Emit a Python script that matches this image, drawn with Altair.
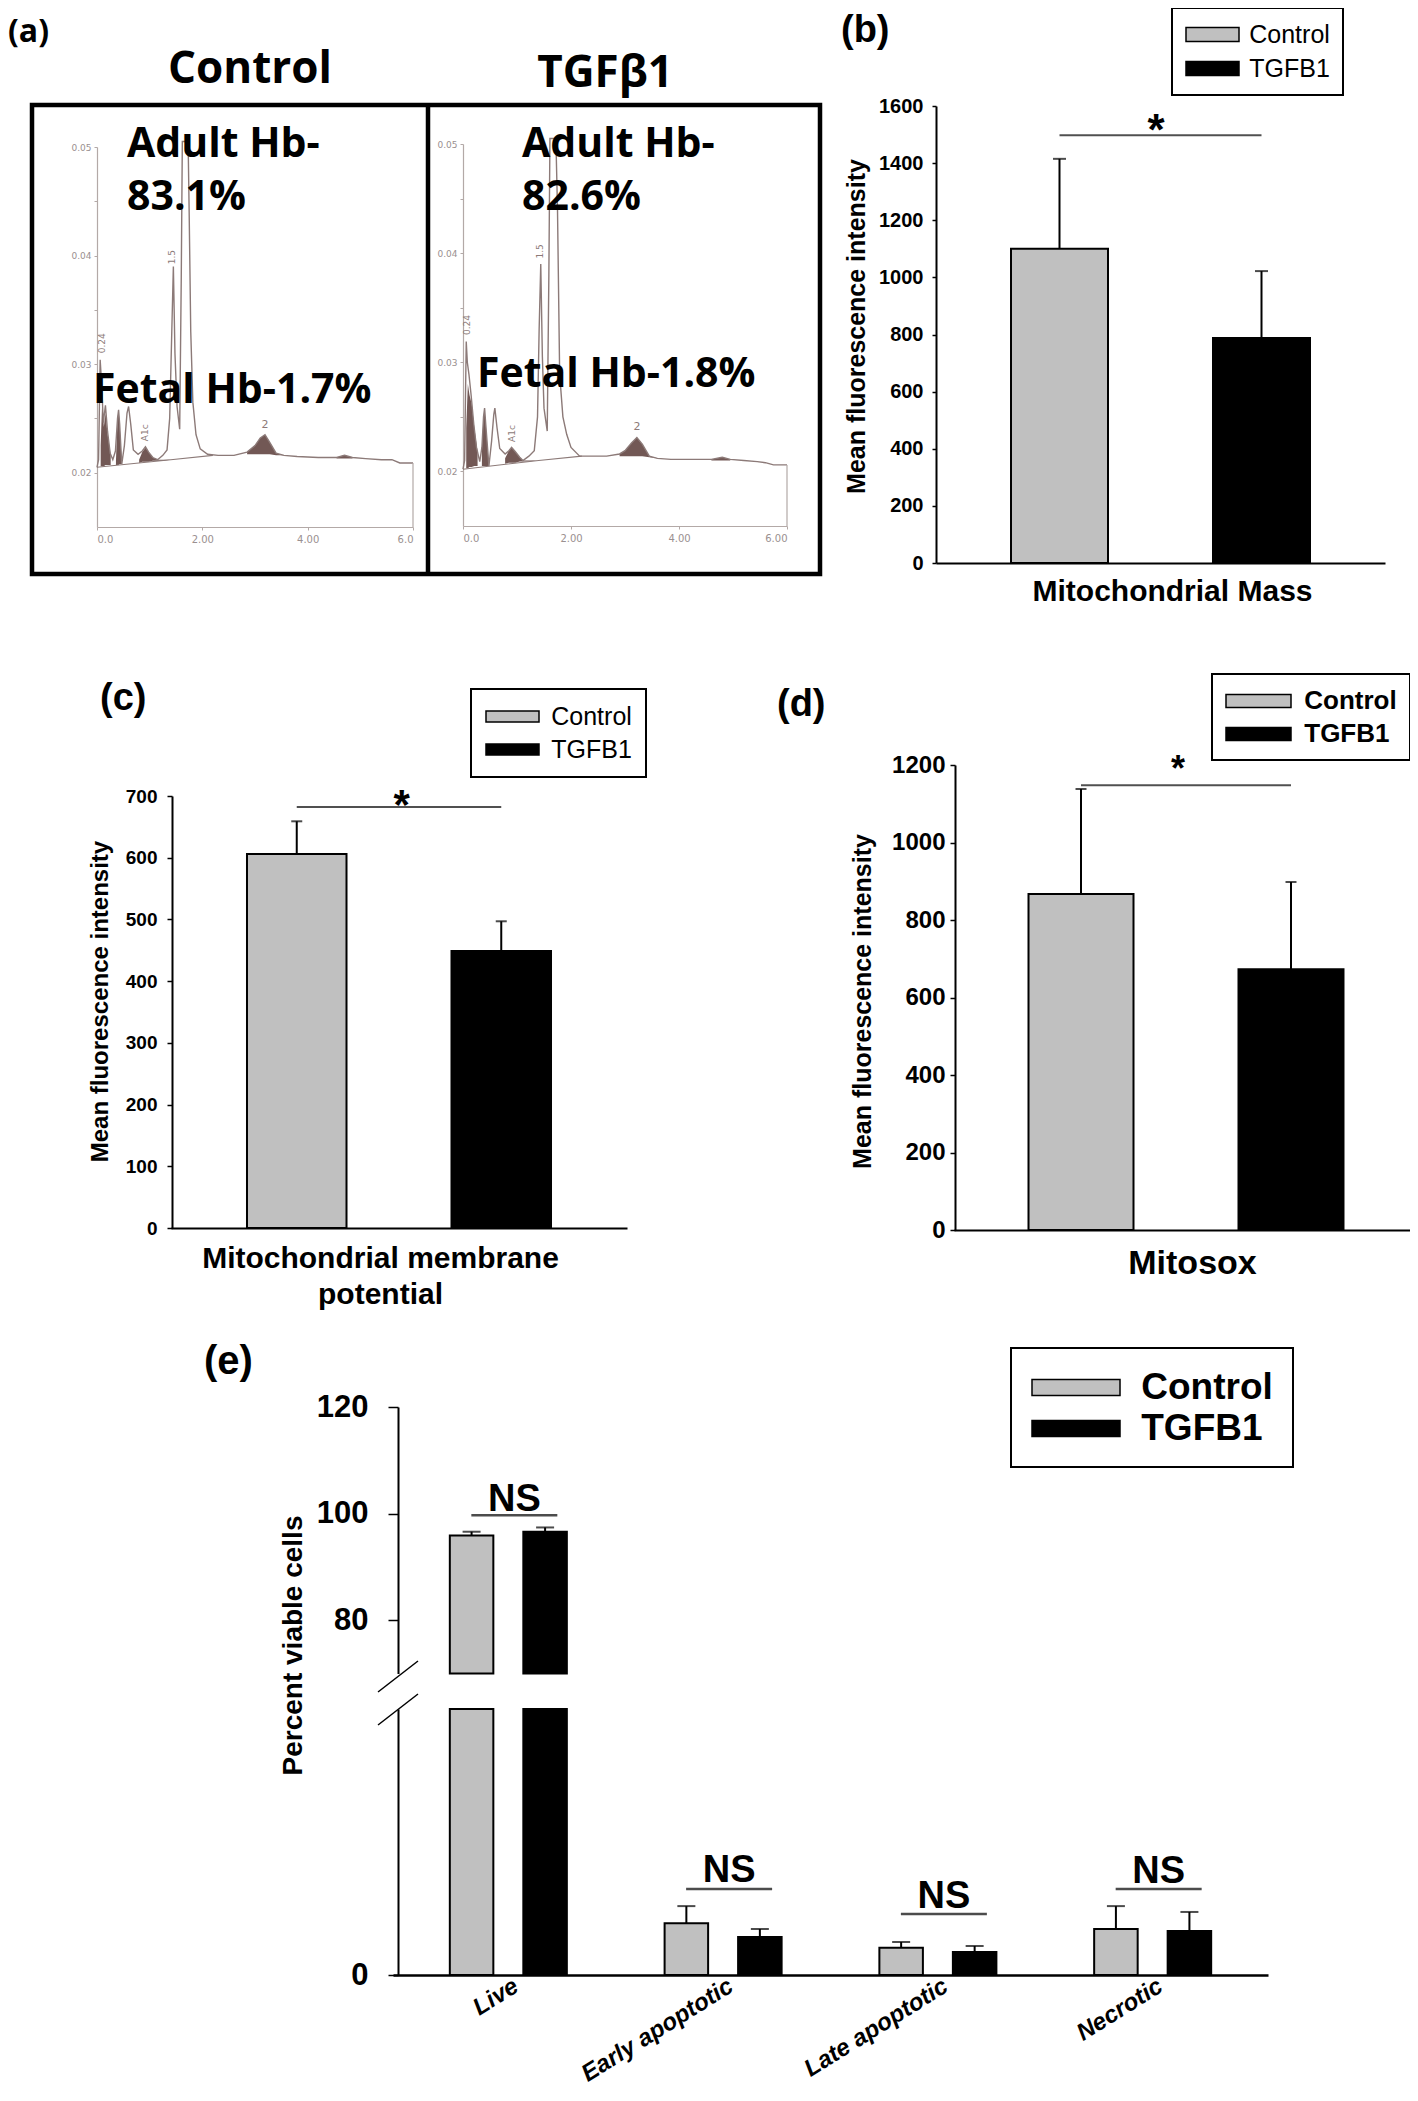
import altair as alt
import pandas as pd

# ------------------------------------------------------------------ data
GROUPS = ["Control", "TGFB1"]
GROUP_FILLS = ["#c0c0c0", "#000000"]

# (a) HPLC haemoglobin chromatograms: retention time (min) vs absorbance
CTRL_T = [0.00, 0.03, 0.06, 0.09, 0.12, 0.16, 0.20, 0.25, 0.30, 0.35, 0.39, 0.41,
          0.43, 0.47, 0.52, 0.57, 0.60, 0.64, 0.69, 0.78, 0.86, 0.92, 0.98, 1.06,
          1.15, 1.25, 1.33, 1.38, 1.42, 1.45, 1.48, 1.52, 1.57, 1.60, 1.62, 1.64,
          1.73, 1.75, 1.78, 1.82, 1.88, 1.96, 2.10, 2.30, 2.60, 2.85, 3.00, 3.10,
          3.19, 3.28, 3.40, 3.55, 3.80, 4.20, 4.55, 4.70, 4.85, 5.10, 5.40, 5.60,
          5.75, 6.00]
CTRL_A = [0.0205, 0.0212, 0.0304, 0.0280, 0.0246, 0.0262, 0.0238, 0.0218, 0.0212, 0.0220, 0.0250, 0.0258,
          0.0245, 0.0208, 0.0225, 0.0255, 0.0261, 0.0245, 0.0221, 0.0217, 0.0220, 0.0224, 0.0219, 0.0214,
          0.0212, 0.0216, 0.0221, 0.0250, 0.0330, 0.0390, 0.0310, 0.0261, 0.0240, 0.0380, 0.0505, 0.0505,
          0.0505, 0.0440, 0.0330, 0.0265, 0.0235, 0.0222, 0.0217, 0.0216, 0.0216, 0.0219, 0.0225, 0.0232,
          0.0235, 0.0228, 0.0218, 0.0216, 0.0215, 0.0214, 0.0214, 0.0216, 0.0214, 0.0213, 0.0212, 0.0212,
          0.0209, 0.0209]
TGF_T = [0.00, 0.03, 0.06, 0.08, 0.11, 0.15, 0.20, 0.25, 0.31, 0.35, 0.38, 0.40,
         0.42, 0.48, 0.53, 0.57, 0.59, 0.63, 0.68, 0.78, 0.85, 0.90, 0.97, 1.05,
         1.11, 1.22, 1.32, 1.38, 1.41, 1.44, 1.47, 1.50, 1.56, 1.59, 1.61, 1.63,
         1.72, 1.75, 1.79, 1.85, 1.92, 2.00, 2.16, 2.40, 2.66, 2.90, 3.00, 3.12,
         3.22, 3.32, 3.45, 3.60, 3.85, 4.20, 4.60, 4.80, 4.95, 5.20, 5.45, 5.60,
         5.75, 6.00]
TGF_A = [0.0202, 0.0210, 0.0319, 0.0300, 0.0289, 0.0270, 0.0243, 0.0222, 0.0209, 0.0222, 0.0250, 0.0258,
         0.0244, 0.0205, 0.0228, 0.0252, 0.0258, 0.0240, 0.0221, 0.0216, 0.0219, 0.0222, 0.0218, 0.0213,
         0.0210, 0.0214, 0.0219, 0.0250, 0.0330, 0.0390, 0.0305, 0.0258, 0.0237, 0.0380, 0.0505, 0.0505,
         0.0505, 0.0440, 0.0289, 0.0250, 0.0234, 0.0222, 0.0214, 0.0214, 0.0214, 0.0216, 0.0219, 0.0226,
         0.0231, 0.0225, 0.0214, 0.0212, 0.0211, 0.0211, 0.0211, 0.0213, 0.0211, 0.0210, 0.0209, 0.0208,
         0.0206, 0.0206]

# integrated (shaded) peaks
SHADE_PEAK = ["P1"] * 6 + ["F"] * 5 + ["A1c"] * 8 + ["A2"] * 7 + ["S"] * 3
CTRL_SHADE_T = [0.07, 0.10, 0.13, 0.16, 0.20, 0.26,
                0.36, 0.39, 0.41, 0.43, 0.47,
                0.80, 0.86, 0.92, 0.98, 1.06, 1.15, 1.25, 1.40,
                2.85, 3.00, 3.10, 3.19, 3.28, 3.40, 3.55,
                4.55, 4.70, 4.85]
CTRL_SHADE_TOP = [0.0225, 0.0268, 0.0242, 0.0255, 0.0236, 0.0216,
                  0.0211, 0.0250, 0.0258, 0.0245, 0.0208,
                  0.0212, 0.0219, 0.0223, 0.0219, 0.0214, 0.0212, 0.0212, 0.0212,
                  0.0219, 0.0225, 0.0232, 0.0235, 0.0228, 0.0218, 0.0216,
                  0.0214, 0.0216, 0.0214]
CTRL_SHADE_BASE = [0.0206, 0.0206, 0.0206, 0.0207, 0.0207, 0.0207,
                   0.0207, 0.0207, 0.0207, 0.0208, 0.0208,
                   0.0209, 0.0210, 0.0210, 0.0210, 0.0211, 0.0211, 0.0211, 0.0212,
                   0.0217, 0.0217, 0.0217, 0.0217, 0.0217, 0.0216, 0.0216,
                   0.0213, 0.0213, 0.0213]
TGF_SHADE_T = [0.06, 0.09, 0.12, 0.16, 0.21, 0.27,
               0.35, 0.38, 0.40, 0.42, 0.48,
               0.78, 0.85, 0.90, 0.97, 1.05, 1.11, 1.22, 1.38,
               2.90, 3.00, 3.12, 3.22, 3.32, 3.45, 3.60,
               4.60, 4.80, 4.95]
TGF_SHADE_TOP = [0.0240, 0.0280, 0.0270, 0.0262, 0.0240, 0.0218,
                 0.0222, 0.0250, 0.0258, 0.0244, 0.0205,
                 0.0212, 0.0219, 0.0222, 0.0218, 0.0213, 0.0210, 0.0210, 0.0210,
                 0.0216, 0.0219, 0.0226, 0.0231, 0.0225, 0.0214, 0.0212,
                 0.0211, 0.0213, 0.0211]
TGF_SHADE_BASE = [0.0203, 0.0203, 0.0204, 0.0204, 0.0205, 0.0205,
                  0.0205, 0.0205, 0.0205, 0.0205, 0.0205,
                  0.0207, 0.0208, 0.0208, 0.0208, 0.0209, 0.0209, 0.0209, 0.0210,
                  0.0214, 0.0214, 0.0214, 0.0214, 0.0214, 0.0213, 0.0212,
                  0.0210, 0.0210, 0.0210]
BASE_T = [0.0, 1.4, 2.2]
CTRL_BASE_A = [0.0205, 0.0212, 0.0216]
TGF_BASE_A = [0.0202, 0.0210, 0.0214]

PEAK_TAGS = ["0.24", "A1c", "1.5"]
CTRL_TAG_T = [0.10, 0.92, 1.43]
CTRL_TAG_A = [0.0310, 0.0229, 0.0392]
TGF_TAG_T = [0.08, 0.90, 1.42]
TGF_TAG_A = [0.0325, 0.0227, 0.0395]
CTRL_A2_TAG = (3.19, 0.0239)
TGF_A2_TAG = (3.22, 0.0236)

CTRL_TEXT = ["Adult Hb-", "83.1%", "Fetal Hb-1.7%"]
CTRL_TEXT_T = [0.57, 0.57, -0.076]
CTRL_TEXT_A = [0.04908, 0.04420, 0.02642]
TGF_TEXT = ["Adult Hb-", "82.6%", "Fetal Hb-1.8%"]
TGF_TEXT_T = [1.093, 1.093, 0.259]
TGF_TEXT_A = [0.04881, 0.04395, 0.02773]

# (b)-(d) mean fluorescence intensity (mean, upper SD)
MITO_MASS = [1100, 788]
MITO_MASS_SD = [315, 234]
MMP = [606, 449]
MMP_SD = [53, 48]
MITOSOX = [867, 673]
MITOSOX_SD = [271, 225]

# (e) percent of cells
CELL_STATES = ["Live", "Early apoptotic", "Late apoptotic", "Necrotic"]
VIAB_CTRL = [95.9, 1.95, 1.02, 1.73]
VIAB_CTRL_SD = [0.7, 0.64, 0.22, 0.86]
VIAB_TGF = [96.6, 1.43, 0.86, 1.65]
VIAB_TGF_SD = [0.8, 0.30, 0.23, 0.72]
NS_LINE = [99.7, 3.23, 2.29, 3.23]
NS_LABEL_Y = [100.56, 3.50, 2.52, 3.46]

# ------------------------------------------------------------------ layout helpers
CW, CH = 1402, 2085
M = 8
FONT = "Liberation Sans"
CAL = "Open Sans"
TRACE = "#8c7a78"
SHADE = "#6a4f4c"
CHROM_AXIS = "#b3a9a7"
CHROM_LABEL = "#9a9090"
DUMMY = pd.DataFrame({"k": [0]})


def vx(v):
    return v - M


def make_legend(x_abs, y_abs, sw_w, sw_h, fsize, weight, gap, row_pad, pad):
    r = fsize / 2.0
    stroke = 1.5
    right = -1 + sw_w / r
    hh = (sw_h / 2.0) / r
    path = f"M-1,{-hh:.3f}H{right:.3f}V{hh:.3f}H-1Z"
    d = fsize + stroke
    return alt.Legend(orient="none", legendX=vx(x_abs), legendY=max(0, vx(y_abs)), title=None,
                      direction="vertical", symbolType=path, symbolSize=fsize * fsize,
                      symbolStrokeColor="black", symbolStrokeWidth=stroke,
                      labelFont=FONT, labelFontSize=fsize, labelFontWeight=weight, labelColor="black",
                      labelOffset=stroke / 2 + sw_w + gap - d, labelLimit=400, rowPadding=row_pad,
                      padding=pad, strokeColor="black", fillColor="white")


def chromatogram(T, A, sh_t, sh_top, sh_base, base_a, tag_t, tag_a, a2, texts, text_t, text_a,
                 title, title_t, title_a, x_abs, y_abs, last_label):
    xs = alt.Scale(domain=[0, 6], range=[vx(x_abs[0]), vx(x_abs[1])], nice=False, zero=False)
    ys = alt.Scale(domain=[0.015, 0.05], range=[vx(y_abs[0]), vx(y_abs[1])], nice=False, zero=False)
    xax = alt.Axis(orient="bottom", offset=vx(y_abs[0]) - CH, values=[0, 2, 4, 6],
                   labelExpr=f"datum.value == 0 ? '0.0' : (datum.value == 6 ? '{last_label}' : format(datum.value, '.2f'))",
                   labelFont="DejaVu Sans", labelFontSize=10, labelColor=CHROM_LABEL, labelPadding=4,
                   tickSize=3, tickColor=CHROM_AXIS, domainColor=CHROM_AXIS, domainWidth=1.2,
                   grid=False, title=None)
    yax = alt.Axis(orient="left", offset=-vx(x_abs[0]),
                   values=[0.02, 0.025, 0.03, 0.035, 0.04, 0.045, 0.05],
                   labelExpr="round(datum.value * 1000) % 10 == 0 ? format(datum.value, '.2f') : ''",
                   labelFont="DejaVu Sans", labelFontSize=9, labelColor=CHROM_LABEL, labelPadding=3,
                   tickSize=3, tickColor=CHROM_AXIS, domainColor=CHROM_AXIS, domainWidth=1.2,
                   grid=False, title=None)

    def X(f):
        return alt.X(f, type="quantitative", scale=xs, axis=xax)

    def Y(f):
        return alt.Y(f, type="quantitative", scale=ys, axis=yax)

    trace = alt.Chart(pd.DataFrame({"t": T, "a": A})).mark_line(
        color=TRACE, strokeWidth=1.4).encode(x=X("t"), y=Y("a"))
    shade = alt.Chart(pd.DataFrame({"peak": SHADE_PEAK, "t": sh_t, "top": sh_top, "base": sh_base})).mark_area(
        color=SHADE, opacity=0.95).encode(x=X("t"), y=Y("top"), y2="base:Q", detail="peak:N")
    base = alt.Chart(pd.DataFrame({"t": BASE_T, "a": base_a})).mark_line(
        color=TRACE, strokeWidth=1.1).encode(x=X("t"), y=Y("a"))
    end = alt.Chart(pd.DataFrame({"t": [T[-1]], "a": [0.015], "a2": [A[-1]]})).mark_rule(
        color=CHROM_AXIS, strokeWidth=1.2).encode(x=X("t"), y=Y("a"), y2="a2:Q")
    tags = alt.Chart(pd.DataFrame({"tag": PEAK_TAGS, "t": tag_t, "a": tag_a})).mark_text(
        angle=270, align="left", baseline="middle", font="DejaVu Sans", fontSize=9, color=TRACE
    ).encode(x=X("t"), y=Y("a"), text="tag:N")
    two = alt.Chart(pd.DataFrame({"tag": ["2"], "t": [a2[0]], "a": [a2[1]]})).mark_text(
        align="center", baseline="bottom", font="DejaVu Sans", fontSize=11, color=TRACE
    ).encode(x=X("t"), y=Y("a"), text="tag:N")
    txt = alt.Chart(pd.DataFrame({"txt": texts, "t": text_t, "a": text_a})).mark_text(
        align="left", baseline="alphabetic", font=CAL, fontSize=41, fontWeight="bold", color="black"
    ).encode(x=X("t"), y=Y("a"), text="txt:N")
    ttl = alt.Chart(pd.DataFrame({"txt": [title], "t": [title_t], "a": [title_a]})).mark_text(
        align="center", baseline="alphabetic", font=CAL, fontSize=44, fontWeight="bold", color="black"
    ).encode(x=X("t"), y=Y("a"), text="txt:N")
    return alt.layer(shade, base, trace, end, tags, two, txt, ttl)


def bar_panel(vals, sds, sig, star, star_dx, star_size, dmax, dstep, band_abs, pin, pout,
              yaxis_x, xaxis_y, ytop, lab_size, lab_pad, tick_size, yt_size, yt_c,
              xtitle, xt_size, xt_c, cap, legend):
    xs = alt.Scale(domain=GROUPS, range=[vx(band_abs[0]), vx(band_abs[1])],
                   paddingInner=pin, paddingOuter=pout)
    ys = alt.Scale(domain=[0, dmax], range=[vx(xaxis_y), vx(ytop)], nice=False, zero=False)
    df = pd.DataFrame({"group": GROUPS, "value": vals, "sd": sds})
    df["top"] = df["value"] + df["sd"]
    xax = alt.Axis(orient="bottom", offset=vx(xaxis_y) - CH, labels=False, ticks=False,
                   domainColor="black", domainWidth=2, grid=False,
                   title=xtitle, titleFont=FONT, titleFontSize=xt_size, titleFontWeight="bold",
                   titleColor="black", titleX=vx(xt_c[0]), titleY=xt_c[1] - xaxis_y,
                   titleAlign="center", titleBaseline="middle", titleAngle=0,
                   titleLineHeight=xt_size * 1.2, titleLimit=1000)
    yax = alt.Axis(orient="left", offset=-vx(yaxis_x), values=list(range(0, dmax + 1, dstep)),
                   format="d", labelFont=FONT, labelFontSize=lab_size, labelFontWeight="bold",
                   labelColor="black", labelPadding=lab_pad, tickSize=tick_size, tickWidth=1.5,
                   tickColor="black", domainColor="black", domainWidth=2, grid=False,
                   title="Mean fluorescence intensity", titleFont=FONT, titleFontSize=yt_size,
                   titleFontWeight="bold", titleColor="black", titleAngle=270,
                   titleX=yt_c[0] - yaxis_x, titleY=vx(yt_c[1]), titleAlign="center",
                   titleBaseline="middle", titleLimit=1000)

    def X():
        return alt.X("group:N", scale=xs, axis=xax)

    def Y(f):
        return alt.Y(f, type="quantitative", scale=ys, axis=yax)

    bars = alt.Chart(df).mark_bar(stroke="black", strokeWidth=2).encode(
        x=X(), y=Y("value"),
        fill=alt.Fill("group:N", scale=alt.Scale(domain=GROUPS, range=GROUP_FILLS), legend=legend))
    err = alt.Chart(df).mark_rule(color="black", strokeWidth=2).encode(
        x=X(), y=Y("value"), y2="top:Q")
    caps = alt.Chart(df).mark_tick(color="black", thickness=2, size=cap).encode(x=X(), y=Y("top"))
    sigl = alt.Chart(pd.DataFrame({"group": GROUPS, "y": [sig, sig]})).mark_line(
        color="#505050", strokeWidth=2).encode(x=X(), y=Y("y"))
    st = alt.Chart(pd.DataFrame({"group": ["Control"], "y": [star]})).mark_text(
        text="*", font=FONT, fontSize=star_size, fontWeight="bold", color="black",
        dx=star_dx, align="center", baseline="alphabetic").encode(x=X(), y=Y("y"))
    return alt.layer(bars, err, caps, sigl, st)


# ------------------------------------------------------------------ panel (a)
chrom_ctrl = chromatogram(CTRL_T, CTRL_A, CTRL_SHADE_T, CTRL_SHADE_TOP, CTRL_SHADE_BASE, CTRL_BASE_A,
                          CTRL_TAG_T, CTRL_TAG_A, CTRL_A2_TAG, CTRL_TEXT, CTRL_TEXT_T, CTRL_TEXT_A,
                          "Control", 2.905, 0.05589, (97, 413), (527, 147), "6.0")
chrom_tgf = chromatogram(TGF_T, TGF_A, TGF_SHADE_T, TGF_SHADE_TOP, TGF_SHADE_BASE, TGF_BASE_A,
                         TGF_TAG_T, TGF_TAG_A, TGF_A2_TAG, TGF_TEXT, TGF_TEXT_T, TGF_TEXT_A,
                         "TGFβ1", 2.63, 0.05522, (463, 787), (526, 144), "6.00")

frame = alt.Chart(DUMMY).mark_rect(fillOpacity=0, stroke="black", strokeWidth=4.5).encode(
    x=alt.value(vx(32)), x2=alt.value(vx(820)), y=alt.value(vx(105)), y2=alt.value(vx(574)))
divider = alt.Chart(DUMMY).mark_rule(color="black", strokeWidth=4.5).encode(
    x=alt.value(vx(428)), y=alt.value(vx(105)), y2=alt.value(vx(574)))

# ------------------------------------------------------------------ panels (b)-(d)
panel_b = bar_panel(MITO_MASS, MITO_MASS_SD, 1498, 1463, 96.5, 44, 1600, 200,
                    (936, 1385), 0.5198, 0.3713, 936, 563, 106, 20, 9, 4, 25, (856, 326),
                    "Mitochondrial Mass", 30, (1172, 591), 13,
                    make_legend(1172, 5, 53, 14, 25, "normal", 10, 7, 13))
panel_c = bar_panel(MMP, MMP_SD, 682, 663, 105, 42, 700, 100,
                    (171, 627), 0.5134, 0.3716, 172, 1228, 796, 19, 10, 5, 24, (100, 1001),
                    ["Mitochondrial membrane", "potential"], 30, (380, 1258), 11,
                    make_legend(471, 689, 53, 11, 25, "normal", 12, 6, 14))
panel_d = bar_panel(MITOSOX, MITOSOX_SD, 1148, 1159, 97, 36, 1200, 200,
                    (954, 1418), 0.5, 0.3548, 955, 1230, 765, 24, 5, 5, 25, (862, 1001),
                    "Mitosox", 34, (1192, 1263), 11,
                    make_legend(1212, 674, 65, 13, 26, "bold", 13, 6, 13))

# ------------------------------------------------------------------ panel (e) (broken y axis)
e_df = pd.DataFrame({"state": CELL_STATES * 2,
                     "group": ["Control"] * 4 + ["TGFB1"] * 4,
                     "value": VIAB_CTRL + VIAB_TGF,
                     "sd": VIAB_CTRL_SD + VIAB_TGF_SD})
e_df["top"] = e_df["value"] + e_df["sd"]
ns_df = pd.DataFrame({"state": CELL_STATES, "line": NS_LINE, "lab": NS_LABEL_Y})

E_XS = alt.Scale(domain=CELL_STATES, range=[vx(393), vx(1268)], paddingInner=0, paddingOuter=0.037)
E_XO = alt.Scale(domain=GROUPS, paddingInner=0.408, paddingOuter=0.665)
E_FILL = alt.Scale(domain=GROUPS, range=GROUP_FILLS)
YS_UP = alt.Scale(domain=[70, 120], range=[vx(1673.5), vx(1407)], clamp=True, nice=False, zero=False)
YS_LO = alt.Scale(domain=[0, 10], range=[vx(1975), vx(1709)], clamp=True, nice=False, zero=False)

E_YAX = dict(orient="left", offset=-vx(398), format="d", labelFont=FONT, labelFontSize=31,
             labelFontWeight="bold", labelColor="black", labelPadding=20, tickSize=10, tickWidth=1.5,
             tickColor="black", domainColor="black", domainWidth=2, grid=False)
yax_up = alt.Axis(values=[80, 100, 120], title="Percent viable cells", titleFont=FONT, titleFontSize=28,
                  titleFontWeight="bold", titleColor="black", titleAngle=270, titleX=293 - 398,
                  titleY=vx(1645), titleAlign="center", titleBaseline="middle", titleLimit=1000, **E_YAX)
yax_lo = alt.Axis(values=[0], title=None, **E_YAX)
xax_lo = alt.Axis(orient="bottom", offset=vx(1975) - CH, labelAngle=328, labelAlign="right",
                  labelBaseline="middle", labelFont=FONT, labelFontSize=24, labelFontStyle="italic",
                  labelFontWeight="bold", labelColor="black", labelPadding=9, labelOffset=8,
                  labelLimit=400, ticks=False, tickSize=0, domainColor="black", domainWidth=2.5,
                  grid=False, title=None)


def e_layer(bar_rows, err_rows, ns_rows, ys, yax, xax, legend):
    def X():
        return alt.X("state:N", scale=E_XS, axis=xax)

    def Y(f):
        return alt.Y(f, type="quantitative", scale=ys, axis=yax)

    XO = alt.XOffset("group:N", scale=E_XO)
    bars = alt.Chart(bar_rows).mark_bar(stroke="black", strokeWidth=2).encode(
        x=X(), xOffset=XO, y=Y("value"),
        fill=alt.Fill("group:N", scale=E_FILL, legend=legend))
    err = alt.Chart(err_rows).mark_rule(color="black", strokeWidth=2).encode(
        x=X(), xOffset=XO, y=Y("value"), y2="top:Q")
    caps = alt.Chart(err_rows).mark_tick(color="black", thickness=2, size=18).encode(
        x=X(), xOffset=XO, y=Y("top"))
    nsl = alt.Chart(ns_rows).mark_tick(color="black", thickness=2.5, size=86, xOffset=6).encode(
        x=X(), y=Y("line"))
    nst = alt.Chart(ns_rows).mark_text(text="NS", font=FONT, fontSize=38, fontWeight="bold",
                                       color="black", dx=6, align="center", baseline="alphabetic").encode(
        x=X(), y=Y("lab"))
    return alt.layer(bars, err, caps, nsl, nst)


live = e_df[e_df["state"] == "Live"]
not_live = e_df[e_df["state"] != "Live"]
e_upper = e_layer(live, live, ns_df[ns_df["state"] == "Live"], YS_UP, yax_up, None, None)
e_lower = e_layer(e_df, not_live, ns_df[ns_df["state"] != "Live"], YS_LO, yax_lo, xax_lo,
                  make_legend(1011, 1348, 88, 16, 37, "bold", 21, 3, 20))

brk1 = alt.Chart(DUMMY).mark_rule(color="black", strokeWidth=1.5).encode(
    x=alt.value(vx(378)), x2=alt.value(vx(418)), y=alt.value(vx(1692)), y2=alt.value(vx(1661)))
brk2 = alt.Chart(DUMMY).mark_rule(color="black", strokeWidth=1.5).encode(
    x=alt.value(vx(378)), x2=alt.value(vx(418)), y=alt.value(vx(1725)), y2=alt.value(vx(1694)))

# ------------------------------------------------------------------ panel letters
letters = []
for lab, fnt, size, lx, ly in [("(a)", CAL, 32, 8, 42), ("(b)", FONT, 38, 841, 42),
                               ("(c)", FONT, 38, 100, 710), ("(d)", FONT, 38, 777, 716),
                               ("(e)", FONT, 40, 204, 1374)]:
    letters.append(alt.Chart(DUMMY).mark_text(text=lab, font=fnt, fontSize=size, fontWeight="bold",
                                              color="black", align="left", baseline="alphabetic").encode(
        x=alt.value(vx(lx)), y=alt.value(vx(ly))))

chart = alt.layer(
    chrom_ctrl, chrom_tgf, frame, divider,
    panel_b, panel_c, panel_d,
    e_upper, e_lower, brk1, brk2, *letters
).resolve_scale(
    x="independent", y="independent", fill="independent", xOffset="independent"
).resolve_axis(
    x="independent", y="independent"
).resolve_legend(
    fill="independent"
).properties(
    width=CW, height=CH, padding=0, autosize=alt.AutoSizeParams(type="none"), background="white"
).configure_view(strokeWidth=0).configure_legend(strokeWidth=2)

chart.save("out.html", embed_options={"renderer": "svg", "actions": False})
